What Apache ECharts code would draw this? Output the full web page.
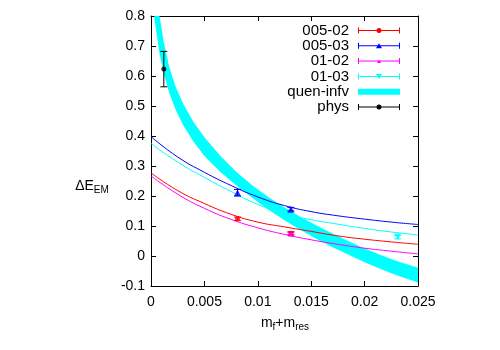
<!DOCTYPE html>
<html>
<head>
<meta charset="utf-8">
<script src="https://cdn.jsdelivr.net/npm/echarts@6/dist/echarts.min.js"></script>
<style>
html,body{margin:0;padding:0;background:#fff;}
#main{width:500px;height:350px;}
</style>
</head>
<body>
<div id="main"></div>
<script>
// x ticks / y ticks
var xTicks = [0, 0.005, 0.01, 0.015, 0.02, 0.025];
var yTicks = [-0.1, 0, 0.1, 0.2, 0.3, 0.4, 0.5, 0.6, 0.7, 0.8];

// fit curves
var fitX     = [0, 0.0025, 0.005, 0.0075, 0.01, 0.0125, 0.015, 0.0175, 0.02, 0.0225, 0.025];
var fit00502 = [0.277, 0.218, 0.175, 0.139, 0.113, 0.097, 0.082, 0.067, 0.056, 0.047, 0.039];
var fit00503 = [0.398, 0.330, 0.279, 0.235, 0.197, 0.168, 0.148, 0.134, 0.123, 0.113, 0.105];
var fit0102  = [0.267, 0.206, 0.159, 0.122, 0.094, 0.072, 0.054, 0.039, 0.026, 0.016, 0.007];
var fit0103  = [0.375, 0.313, 0.262, 0.215, 0.172, 0.141, 0.121, 0.106, 0.092, 0.080, 0.070];

// quen-infv band: upper and lower edges
var bandX  = [0.0001, 0.0004, 0.0008, 0.0012, 0.0017, 0.0023, 0.003, 0.004, 0.005, 0.0065, 0.008, 0.0095, 0.011, 0.0125, 0.014, 0.0155, 0.017, 0.0185, 0.02, 0.0215, 0.023, 0.025];
var bandHi = [1.026, 0.912, 0.80, 0.712, 0.632, 0.565, 0.508, 0.446, 0.396, 0.333, 0.28, 0.235, 0.196, 0.162, 0.13, 0.102, 0.075, 0.049, 0.025, 0.003, -0.017, -0.039];
var bandLo = [0.87, 0.771, 0.675, 0.607, 0.545, 0.488, 0.437, 0.38, 0.333, 0.28, 0.235, 0.193, 0.154, 0.119, 0.087, 0.057, 0.029, 0.004, -0.021, -0.043, -0.064, -0.088];

// data points [x, y, yerr]
var pts00502 = [[0.0081, 0.124, 0.006], [0.0131, 0.076, 0.005]];
var pts00503 = [[0.0081, 0.211, 0.011], [0.0131, 0.156, 0.006]];
var pts0102  = [[0.0131, 0.074, 0.005]];
var pts0103  = [[0.0231, 0.063, 0.006]];
var ptsPhys  = [[0.0012, 0.623, 0.059]];

var FONT = 'Liberation Sans';

function pairs(xs, ys) {
	var out = [];
	for (var i = 0; i < xs.length; i++) out.push([xs[i], ys[i]]);
	return out;
}
function bandRows() {
	var out = [];
	for (var i = 0; i < bandX.length; i++) out.push([bandX[i], bandHi[i], bandLo[i]]);
	return out;
}

// whole band as one polygon, drawn on the first item only
function bandPoly(params, api) {
	if (params.dataIndexInside !== 0) return;
	var n = params.dataInsideLength, top = [], bot = [];
	for (var i = 0; i < n; i++) {
		top.push(api.coord([api.value(0, i), api.value(1, i)]));
		bot.unshift(api.coord([api.value(0, i), api.value(2, i)]));
	}
	return {type: 'polygon', shape: {points: top.concat(bot)},
		style: {fill: api.visual('color'), stroke: null}};
}

function errBar(params, api) {
	var x = api.value(0), y = api.value(1), e = api.value(2);
	var lo = api.coord([x, y - e]), hi = api.coord([x, y + e]);
	var w = 3.5, c = api.visual('color');
	var st = {stroke: c, lineWidth: 1};
	return {type: 'group', children: [
		{type: 'line', shape: {x1: lo[0], y1: lo[1], x2: hi[0], y2: hi[1]}, style: st},
		{type: 'line', shape: {x1: lo[0] - w, y1: lo[1], x2: lo[0] + w, y2: lo[1]}, style: st},
		{type: 'line', shape: {x1: hi[0] - w, y1: hi[1], x2: hi[0] + w, y2: hi[1]}, style: st}
	]};
}

// legend samples: bar with end caps and the marker in the middle (box 42x6)
var bar = 'M0 2.5H42V3.5H0Z M0 0H1V6H0Z M41 0H42V6H41Z ';
var iconCircle = 'path://' + bar + 'M18.5 3A2.5 2.5 0 1 1 23.5 3A2.5 2.5 0 1 1 18.5 3Z';
var iconTri    = 'path://' + bar + 'M18 5.5L21 0.5L24 5.5Z';
var iconSmall  = 'path://' + bar + 'M19 5L21 1.5L23 5Z';
var iconDown   = 'path://' + bar + 'M18 0.5L24 0.5L21 5.5Z';

function ptSeries(name, data, color, symbol, size, rot) {
	return [{
		name: name, type: 'custom', renderItem: errBar, data: data,
		encode: {x: 0, y: 1}, itemStyle: {color: color}, z: 4, silent: true
	}, {
		name: name, type: 'scatter', data: data, symbol: symbol, symbolSize: size,
		symbolRotate: rot || 0, itemStyle: {color: color}, z: 5, silent: true
	}];
}
function fitSeries(data, color) {
	return {
		type: 'line', data: pairs(fitX, data), smooth: true, symbol: 'none',
		lineStyle: {color: color, width: 1}, z: 3, silent: true
	};
}

var Chart = echarts.init(document.getElementById('main'));
var series = [
	{
		name: 'quen-infv', type: 'custom', renderItem: bandPoly, data: bandRows(),
		encode: {x: 0, y: [1, 2]}, clip: true, itemStyle: {color: '#00ffff'}, z: 1, silent: true
	},
	fitSeries(fit00502, '#ff0000'),
	fitSeries(fit00503, '#0000ff'),
	fitSeries(fit0102, '#ff00ff'),
	fitSeries(fit0103, '#00ffff')
];
series = series
	.concat(ptSeries('005-02', pts00502, '#ff0000', 'circle', 5))
	.concat(ptSeries('005-03', pts00503, '#0000ff', 'triangle', 7))
	.concat(ptSeries('01-02', pts0102, '#ff00ff', 'triangle', 6))
	.concat(ptSeries('01-03', pts0103, '#00ffff', 'triangle', 7, 180))
	.concat(ptSeries('phys', ptsPhys, '#000000', 'circle', 5));

var axisCommon = {
	type: 'value',
	axisLine: {show: true, onZero: false, lineStyle: {color: '#000', width: 1}},
	axisTick: {show: true, inside: true, length: 5, lineStyle: {color: '#000'}},
	splitLine: {show: false}
};
function ax(extra) { return Object.assign({}, axisCommon, extra); }

var option = {
	animation: false,
	backgroundColor: '#fff',
	grid: {left: 151, right: 82, top: 16, bottom: 64},
	xAxis: [
		ax({position: 'bottom', min: xTicks[0], max: xTicks[xTicks.length - 1], interval: 0.005,
			axisLabel: {color: '#000', fontSize: 14, fontFamily: FONT, margin: 9, showMinLabel: true, showMaxLabel: true}}),
		ax({position: 'top', min: xTicks[0], max: xTicks[xTicks.length - 1], interval: 0.005, axisLabel: {show: false}})
	],
	yAxis: [
		ax({position: 'left', min: yTicks[0], max: yTicks[yTicks.length - 1], interval: 0.1,
			axisLabel: {color: '#000', fontSize: 14, fontFamily: FONT, margin: 6, showMinLabel: true, showMaxLabel: true}}),
		ax({position: 'right', min: yTicks[0], max: yTicks[yTicks.length - 1], interval: 0.1, axisLabel: {show: false}})
	],
	legend: {
		orient: 'vertical', align: 'right', right: 100, top: 23,
		itemWidth: 42, itemHeight: 6, itemGap: 0.3, padding: 0, selectedMode: false,
		textStyle: {color: '#000', fontSize: 15, fontFamily: FONT, lineHeight: 15, padding: [0, 4, 0, 0]},
		data: [
			{name: '005-02', icon: iconCircle},
			{name: '005-03', icon: iconTri},
			{name: '01-02', icon: iconSmall},
			{name: '01-03', icon: iconDown},
			{name: 'quen-infv', icon: 'rect', itemStyle: {color: '#00ffff'}},
			{name: 'phys', icon: iconCircle}
		]
	},
	graphic: [
		{type: 'text', x: 92, y: 186, style: {
			text: '{m|ΔE}{s|EM}', textAlign: 'center', textVerticalAlign: 'middle',
			rich: {m: {fontSize: 14, fontFamily: FONT, fill: '#000'},
				s: {fontSize: 10, fontFamily: FONT, fill: '#000', verticalAlign: 'bottom', padding: [8, 0, 0, 0]}}
		}},
		{type: 'text', x: 285, y: 323, style: {
			text: '{m|m}{s|f}{m|+m}{s|res}', textAlign: 'center', textVerticalAlign: 'middle',
			rich: {m: {fontSize: 14, fontFamily: FONT, fill: '#000'},
				s: {fontSize: 10, fontFamily: FONT, fill: '#000', verticalAlign: 'bottom', padding: [8, 0, 0, 0]}}
		}}
	],
	series: series
};
Chart.setOption(option);
</script>
</body>
</html>
